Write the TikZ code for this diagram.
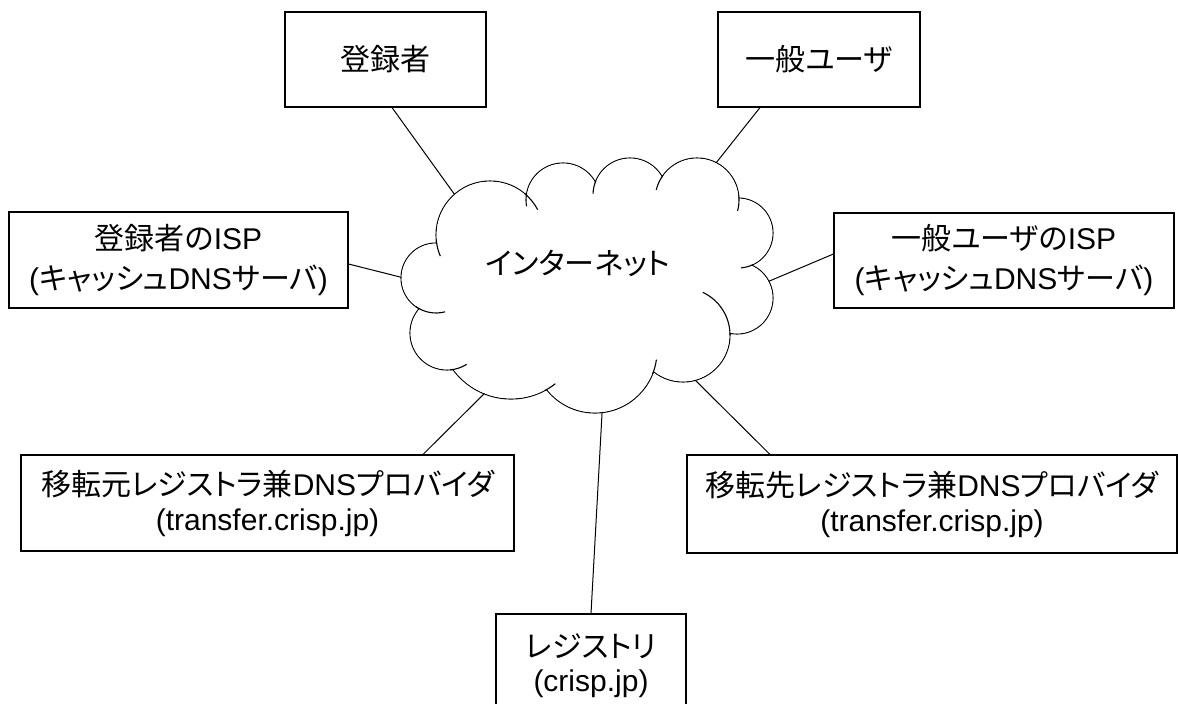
\documentclass[tikz,border=0pt]{standalone}
\usepackage{fontspec}
\setmainfont{Liberation Sans}
\newfontfamily\jp{Noto Sans CJK JP}[RawFeature={+palt}]
\usetikzlibrary{calc}
\begin{document}
\begin{tikzpicture}[x=1pt,y=1pt,
  box/.style={draw, line width=1.1pt, fill=white, inner sep=0pt, align=center,
              font=\fontsize{30}{35}\selectfont},
  conn/.style={line width=1pt},
  lobeline/.style={line width=1.1pt},
  cloudtext/.style={font=\fontsize{30}{35}\selectfont}]
\useasboundingbox (0,0) rectangle (1178,-704);
\clip (0,0) rectangle (1178,-704);
\fill[white] (0,0) rectangle (1178,-704);

% boxes
\node[box, minimum width=201pt, minimum height=95pt] (reg) at (385.5,-59.5) {{\jp 登録者}};
\node[box, minimum width=202pt, minimum height=95pt] (usr) at (819,-59.5) {{\jp 一般ユーザ}};
\node[box, minimum width=339pt, minimum height=96pt, font=\fontsize{30}{40}\selectfont] (ispl) at (178.5,-260)
  {{\jp 登録者の}ISP\\({\jp キャッシュ}DNS{\jp サーバ})};
\node[box, minimum width=340pt, minimum height=95pt, font=\fontsize{30}{40}\selectfont] (ispr) at (1004,-260.5)
  {{\jp 一般ユーザの}ISP\\({\jp キャッシュ}DNS{\jp サーバ})};
\node[box, minimum width=493pt, minimum height=96pt] (moto) at (267.5,-503)
  {{\jp 移転元レジストラ兼}DNS{\jp プロバイダ}\\(transfer.crisp.jp)};
\node[box, minimum width=490pt, minimum height=98pt] (saki) at (932,-504)
  {{\jp 移転先レジストラ兼}DNS{\jp プロバイダ}\\(transfer.crisp.jp)};
\node[box, minimum width=190pt, minimum height=104pt, font=\fontsize{30}{34}\selectfont] (regy) at (591,-666)
  {{\jp レジストリ}\\(crisp.jp)};

% connector ends inside the cloud
\coordinate (c1) at (460,-202);
\coordinate (c2) at (712,-168);
\coordinate (c3) at (412,-280);
\coordinate (c4) at (760,-285);
\coordinate (c5) at (495,-383);
\coordinate (c6) at (690,-375);
\coordinate (c7) at (602.5,-405);

\draw[conn] ([xshift=6.5pt]reg.south) -- (c1);
\draw[conn] ([xshift=-59pt]usr.south) -- (c2);
\draw[conn] ([yshift=-4pt]ispl.east) -- (c3);
\draw[conn] ([yshift=6.5pt]ispr.west) -- (c4);
\draw[conn] ([xshift=155.5pt]moto.north) -- (c5);
\draw[conn] ([xshift=-162pt]saki.north) -- (c6);
\draw[conn] (regy.north) -- (c7);

% cloud: outline of the union of lobes
\foreach \cx/\cy/\r in {490/235/54, 436/278/35, 447/333/37, 511/327/72, 595/351/62,
                       683/335/47, 737/298/36, 738/233/35, 697/200/42, 630/195/37, 563/200/37}
  \draw[lobeline] (\cx,-\cy) circle[radius=\r];
\foreach \cx/\cy/\r in {490/235/54, 436/278/35, 447/333/37, 511/327/72, 595/351/62,
                       683/335/47, 737/298/36, 738/233/35, 697/200/42, 630/195/37, 563/200/37}
  \fill[white] (\cx,-\cy) circle[radius=\r-0.6];
\fill[white] (590,-285) ellipse[x radius=140, y radius=85];
% inner hooks of the lobes
\foreach \cx/\cy/\r/\a/\b in {490/235/54/28/50, 490/235/54/186/203, 436/278/35/235/285,
                             447/333/37/275/302, 511/327/72/-62/-52, 595/351/62/-22/-8,
                             683/335/47/0/65, 738/233/35/-85/-65, 697/200/42/-15/5,
                             697/200/42/144/166, 630/195/37/157/178, 563/200/37/170/190}
  \draw[lobeline] (\cx,-\cy) ++(\a:\r) arc[start angle=\a, end angle=\b, radius=\r];

\node[cloudtext] (net) at (578,-263) {{\jp インターネット}};
\end{tikzpicture}
\end{document}
